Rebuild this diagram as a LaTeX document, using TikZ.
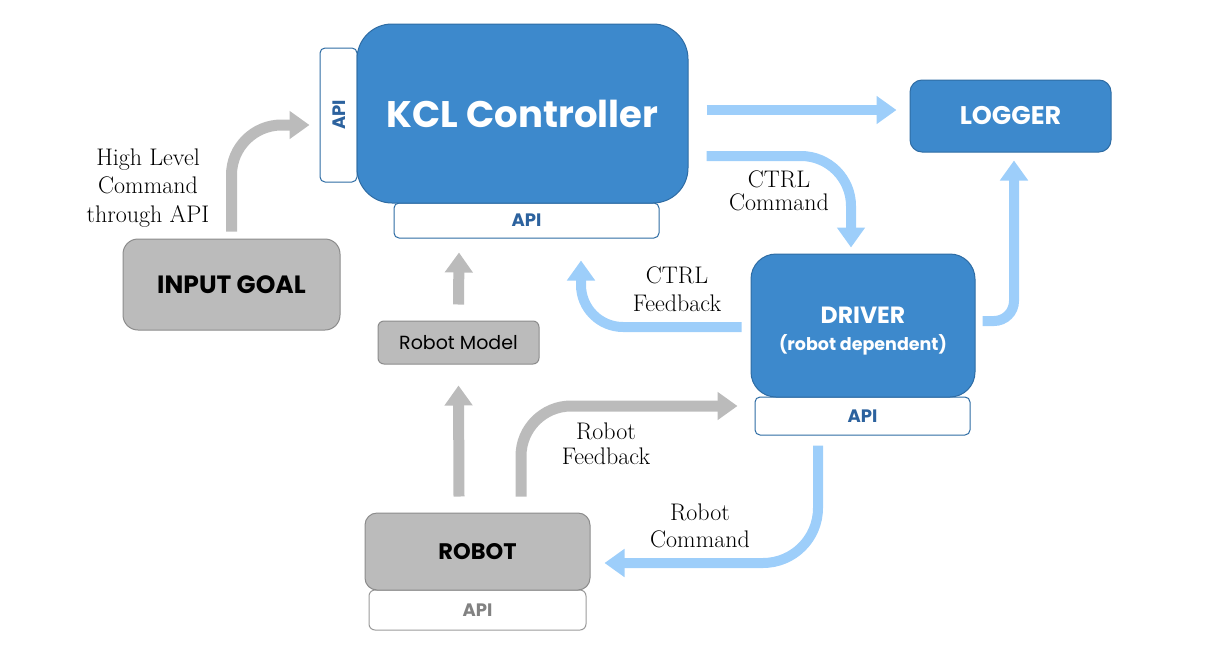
\documentclass[tikz,border=0pt]{standalone}
\usepackage{fontspec}
\usetikzlibrary{arrows.meta}
\newfontfamily\gothic{Poppins}
\definecolor{kclblue}{RGB}{61,137,204}
\definecolor{kclborder}{RGB}{46,108,164}
\definecolor{apitext}{RGB}{44,98,158}
\definecolor{lightblue}{RGB}{157,206,250}
\definecolor{arrgray}{RGB}{187,187,187}
\definecolor{boxgray}{RGB}{187,187,187}
\definecolor{grayborder}{RGB}{140,140,140}
\definecolor{apigray}{RGB}{130,130,130}
\tikzset{
  bluebox/.style={draw=kclborder, fill=kclblue, line width=1pt, text=white, align=center, inner sep=0pt},
  graybox/.style={draw=grayborder, fill=boxgray, line width=1pt, text=black, align=center, inner sep=0pt},
  apifont/.style={font=\gothic\bfseries\fontsize{18}{22}\selectfont},
  apibox/.style={draw=kclborder, fill=white, line width=1pt, rounded corners=5pt, text=apitext, inner sep=0pt, apifont},
  apigraybox/.style={draw=apigray!80, fill=white, line width=1pt, rounded corners=6pt, text=apigray, inner sep=0pt, apifont},
  bluearrow/.style={draw=lightblue, line width=10pt, -{Triangle[width=27pt,length=20pt]}},
  grayarrow/.style={draw=arrgray, line width=11pt, -{Triangle[width=27pt,length=20pt]}},
  lbl/.style={align=center, inner sep=0pt}
}
\newcommand{\lblfont}[1]{\fontsize{24}{#1}\selectfont}
\begin{document}
\begin{tikzpicture}[x=1pt,y=-1pt]
\useasboundingbox (0,0) rectangle (1205,651);
% API tabs (behind main boxes)
\node[apibox, minimum width=37pt, minimum height=134pt] (kclapiL) at (338.5,115) {};
\node[text=apitext, apifont, rotate=90] (kclapiLt) at (339,115) {API};
\node[apibox, minimum width=265pt, minimum height=35pt] (kclapiB) at (526.5,220.5) {API};
\node[apibox, minimum width=215pt, minimum height=38pt] (drvapi) at (862.5,416) {API};
\node[apigraybox, minimum width=217pt, minimum height=40pt] (robapi) at (477.5,610) {API};
% main boxes
\node[bluebox, rounded corners=35pt, minimum width=331pt, minimum height=179pt, font=\gothic\bfseries\fontsize{37}{40}\selectfont] (kcl) at (522.5,113.5) {KCL Controller};
\node[bluebox, rounded corners=12pt, minimum width=201pt, minimum height=72pt, font=\gothic\bfseries\fontsize{25.5}{28}\selectfont] (logger) at (1010.5,116) {LOGGER};
\node[bluebox, rounded corners=25pt, minimum width=224pt, minimum height=143pt,
  label={[name=drvtext, text=white, align=center, inner sep=0pt, yshift=-5.5pt]center:{\gothic\bfseries\fontsize{23.5}{26}\selectfont DRIVER}\\[10.5pt]{\gothic\bfseries\fontsize{17.5}{20}\selectfont (robot dependent)}}] (driver) at (863,325.5) {};
\node[graybox, rounded corners=15pt, minimum width=217pt, minimum height=91pt, font=\gothic\bfseries\fontsize{25}{28}\selectfont] (goal) at (231.5,284.5) {INPUT GOAL};
\node[graybox, rounded corners=6pt, minimum width=161pt, minimum height=43pt, font=\gothic\fontsize{19}{22}\selectfont] (model) at (458.5,342.5) {Robot Model};
\node[graybox, rounded corners=12pt, minimum width=225pt, minimum height=77pt, font=\gothic\bfseries\fontsize{22.5}{26}\selectfont] (robot) at (477.5,551.5) {ROBOT};
% connectors
\draw[grayarrow, rounded corners=50pt] ([shift={(0,-7)}]goal.north) |- ([shift={(-10,10)}]kclapiL.west);
\draw[bluearrow] ([shift={(18,-3.5)}]kcl.east) -- ([shift={(-13,-6)}]logger.west);
\draw[bluearrow, rounded corners=50pt] ([shift={(18,42.5)}]kcl.east) -| ([shift={(-12,-6)}]driver.north);
\draw[bluearrow, rounded corners=20pt] ([shift={(7,-4.5)}]driver.east) -| ([shift={(3.5,8)}]logger.south);
\draw[bluearrow, rounded corners=42pt] ([shift={(-9,1.5)}]driver.west) -| ([shift={(54.5,22)}]kclapiB.south);
\draw[grayarrow] ([shift={(0,-16)}]model.north) -- ([shift={(0.5,14)}]model.north |- kclapiB.south);
\draw[grayarrow] ([shift={(-18.5,-16)}]robot.north) -- ([shift={(0,21)}]model.south);
\draw[grayarrow, rounded corners=50pt] ([shift={(43.5,-16)}]robot.north) |- ([shift={(-17,-10)}]drvapi.west);
\draw[bluearrow, rounded corners=55pt] ([shift={(-44.5,10)}]drvapi.south) |- ([shift={(14,11.5)}]robot.east);
% labels
\node[lbl, font=\lblfont{28.5}] (lhigh) at (148,188) {High Level\\Command\\through API};
\node[lbl, font=\lblfont{23}] (lctrlc) at (779,191) {CTRL\\Command};
\node[lbl, font=\lblfont{28.5}] (lctrlf) at (677,289) {CTRL\\Feedback};
\node[lbl, font=\lblfont{25}] (lrobf) at (606,443.5) {Robot\\Feedback};
\node[lbl, font=\lblfont{27}] (lrobc) at (700,526) {Robot\\Command};
\end{tikzpicture}
\end{document}
